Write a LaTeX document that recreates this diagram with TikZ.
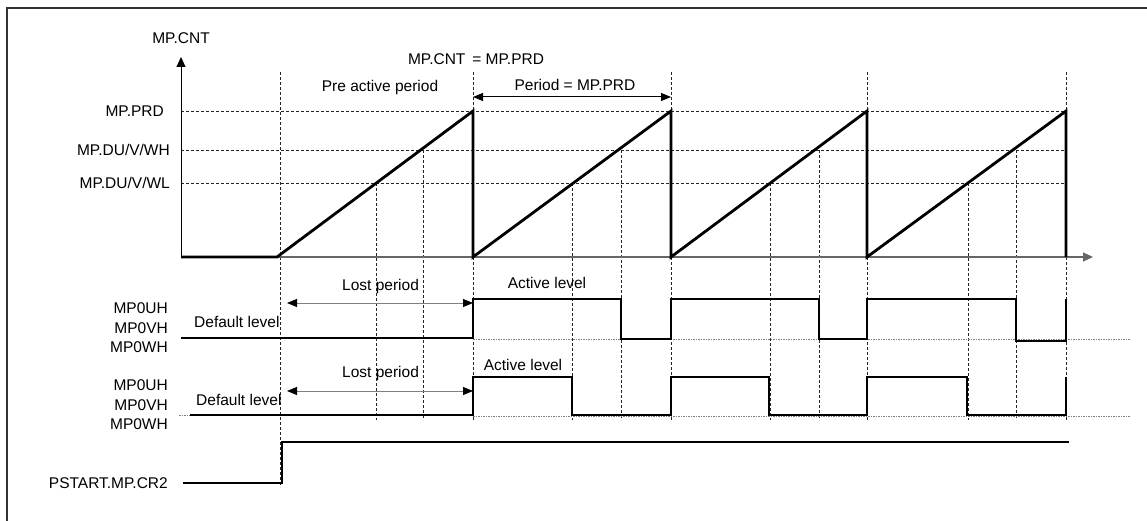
\documentclass[tikz,border=0pt]{standalone}
\usepackage{fontspec}
\setmainfont{Liberation Sans}
\usetikzlibrary{arrows.meta}
\begin{document}
\begin{tikzpicture}[x=1pt,y=-1pt,
  font=\fontsize{15.5}{18}\selectfont,
  lbl/.style={inner sep=0pt},
  sig/.style={line width=2.8pt,line join=miter},
  grid/.style={line width=0.8pt,black!85,dash pattern=on 3pt off 2pt},
  base/.style={line width=0.9pt,gray,dash pattern=on 1.5pt off 1pt},
  tip/.style={-{Triangle[length=10pt,width=9pt]}},
  span/.style={{Triangle[length=10pt,width=8pt,black]}-{Triangle[length=10pt,width=8pt,black]}}]
\useasboundingbox (0,0) rectangle (1147,521);
% frame
\draw[line width=2pt,black!80] (7,521) -- (7,8) -- (1147,8);

% reference levels
\foreach \y in {111,150,183}
  \draw[grid] (181,\y) -- (1066,\y);
% period boundaries
\draw[grid] (280,72) -- (280,487);
\foreach \x in {473,671,867,1066}
  \draw[grid] (\x,72) -- (\x,420);
% compare points on each ramp
\foreach \x in {376,572,770,968}
  \draw[grid] (\x,183) -- (\x,420);
\foreach \x in {423,621,819,1016}
  \draw[grid] (\x,150) -- (\x,420);

% axes
\coordinate (o) at (181,257);
\draw[tip,line width=1pt] (o) -- (181,57);
\draw[tip,line width=1.1pt,black!60] (o) -- (1093,257);

% counter
\draw[sig,line width=2.8pt] (o) -- (277,257) -- (473,111) -- (473,257)
  -- (671,111) -- (671,257) -- (867,111) -- (867,257) -- (1066,111) -- (1066,257);

% axis and level labels
\node[lbl] (cnt) at (181,38) {MP.CNT};
\node[lbl] (eq) at (476,59) {MP.CNT \,= MP.PRD};
\node[lbl] (pre) at (380,87) {Pre active period};
\node[lbl] (per) at (575,85) {Period = MP.PRD};
\draw[span,line width=1pt] (473,97) -- (671,97);
\node[lbl,anchor=east] (prd) at (164,111) {MP.PRD};
\node[lbl,anchor=east] (wh) at (170,150) {MP.DU/V/WH};
\node[lbl,anchor=east] (wl) at (170,183) {MP.DU/V/WL};

% first output
\draw[base] (473,339) -- (1130,339);
\draw[sig] (181,338) -- (473,338) -- (473,299) -- (621,299) -- (621,339)
  -- (671,339) -- (671,299) -- (819,299) -- (819,339) -- (867,339)
  -- (867,299) -- (1016,299) -- (1016,341) -- (1066,341) -- (1066,299);
\node[lbl,align=right,anchor=east] (out1) at (168,328)
  {MP0UH\\[1.5pt]MP0VH\\[1.5pt]MP0WH};
\node[lbl,anchor=west] (def1) at (194,322) {Default level};
\node[lbl,anchor=west] (lost1) at (342,286) {Lost period};
\draw[span,line width=1pt,black!50] (287,303) -- (473,303);
\node[lbl] (act1) at (547,283) {Active level};

% second output
\draw[base] (179,415) -- (190,415);
\draw[base] (473,416) -- (1130,416);
\draw[sig] (190,415) -- (473,415) -- (473,377) -- (572,377) -- (572,415)
  -- (671,415) -- (671,377) -- (769,377) -- (769,415) -- (867,415)
  -- (867,377) -- (967,377) -- (967,415) -- (1066,415) -- (1066,377);
\node[lbl,align=right,anchor=east] (out2) at (168,405)
  {MP0UH\\[1.5pt]MP0VH\\[1.5pt]MP0WH};
\node[lbl,anchor=west] (def2) at (196,400) {Default level};
\node[lbl,anchor=west] (lost2) at (342,373) {Lost period};
\draw[span,line width=1pt,black!50] (287,391) -- (473,391);
\node[lbl] (act2) at (523,365) {Active level};

% start bit
\draw[sig] (183,483) -- (282,483) -- (282,442) -- (1069,442);
\node[lbl,anchor=east] (pstart) at (168,483) {PSTART.MP.CR2};
\end{tikzpicture}
\end{document}
